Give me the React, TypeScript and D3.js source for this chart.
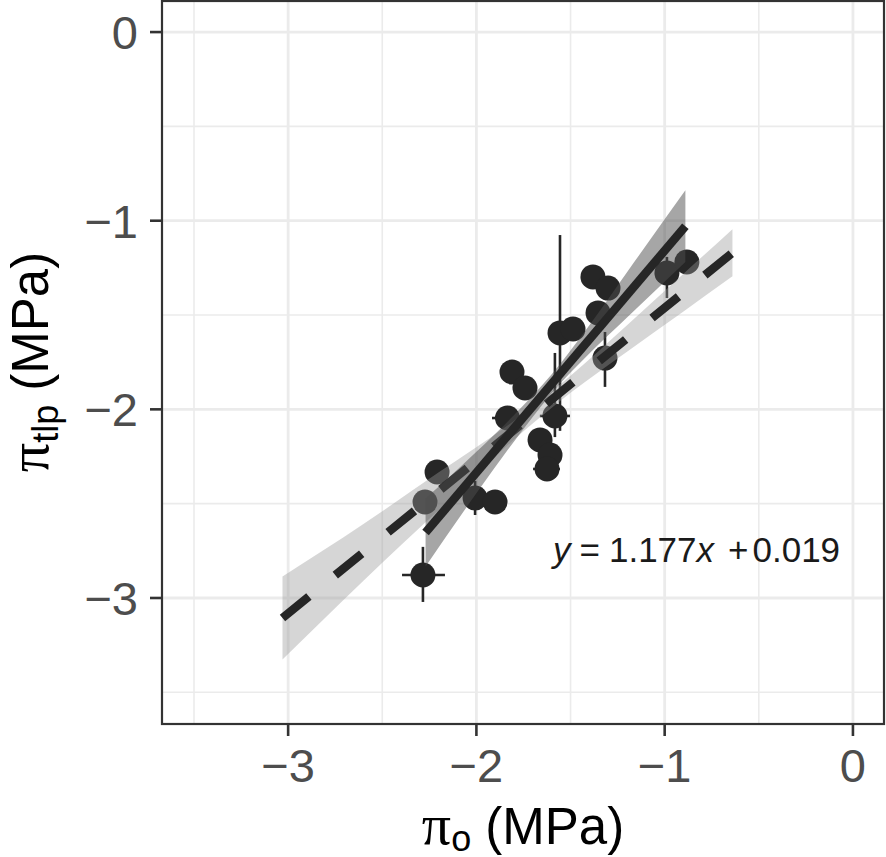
import React from 'react';
import * as d3 from 'd3';

// ---- data ----
const xTicks = [-3, -2, -1, 0];
const yTicks = [-3, -2, -1, 0];
const minorBreaks = [-3.5, -2.5, -1.5, -0.5];
const tickLabels = ['\u22123', '\u22122', '\u22121', '0'];

// points (osmotic potential at full turgor vs turgor loss point)
const ptX = [-2.284, -2.273, -2.209, -2.007, -1.901, -1.835, -1.811, -1.742, -1.662, -1.609, -1.625, -1.583, -1.556, -1.487, -1.381, -1.301, -1.354, -1.317, -0.988, -0.882];
const ptY = [-2.878, -2.491, -2.332, -2.470, -2.491, -2.046, -1.802, -1.887, -2.162, -2.242, -2.316, -2.035, -1.595, -1.574, -1.298, -1.357, -1.489, -1.728, -1.277, -1.219];
// error bars (null = none)
const xErrLo = [-2.395, null, null, null, null, -1.917, null, null, null, null, -1.699, -1.663, null, null, null, null, null, null, null, null];
const xErrHi = [-2.167, null, null, null, null, -1.753, null, null, null, null, -1.556, -1.503, null, null, null, null, null, null, null, null];
const yErrLo = [-3.021, null, null, -2.560, null, null, null, null, null, null, null, -2.147, -2.114, null, null, null, null, -1.881, -1.410, null];
const yErrHi = [-2.729, null, null, -2.380, null, null, null, null, null, null, null, -1.701, -1.076, null, null, null, null, -1.590, -1.192, null];

// fitted line of this study (solid) and its confidence band
const solidX = [-2.27, -0.89];
const solidY = [-2.653, -1.029];
const solidRibX = [-2.27, -2.0, -1.8, -1.6, -1.4, -1.2, -0.89];
const solidRibLo = [-2.833, -2.445, -2.17, -1.914, -1.704, -1.513, -1.219];
const solidRibHi = [-2.473, -2.225, -2.03, -1.814, -1.554, -1.273, -0.839];

// reference relationship (dashed) and its band
const dashX = [-3.03, -0.64];
const dashY = [-3.106, -1.170];
const dashRibX = [-3.03, -2.6, -2.2, -1.8, -1.5, -1.2, -0.9, -0.64];
const dashRibLo = [-3.326, -2.908, -2.534, -2.16, -1.912, -1.694, -1.481, -1.295];
const dashRibHi = [-2.886, -2.608, -2.334, -2.06, -1.822, -1.554, -1.281, -1.045];

const SANS = '"Liberation Sans", Arial, Helvetica, sans-serif';
const SERIF = '"Liberation Serif", "Times New Roman", serif';

export default function App() {
  const L = 162, R = 884, T = 0, B = 724;
  const x = d3.scaleLinear().domain([-3.67, 0.165]).range([L, R]);
  const y = d3.scaleLinear().domain([-3.668, 0.17]).range([B, T]);

  const solidArea = d3.area<number>()
    .x((_, i) => x(solidRibX[i]))
    .y0((_, i) => y(solidRibLo[i]))
    .y1((_, i) => y(solidRibHi[i]))
    .curve(d3.curveMonotoneX)(solidRibX) || '';
  const dashArea = d3.area<number>()
    .x((_, i) => x(dashRibX[i]))
    .y0((_, i) => y(dashRibLo[i]))
    .y1((_, i) => y(dashRibHi[i]))
    .curve(d3.curveMonotoneX)(dashRibX) || '';
  const solidPath = d3.line<number>().x((_, i) => x(solidX[i])).y((_, i) => y(solidY[i]))(solidX) || '';
  const dashPath = d3.line<number>().x((_, i) => x(dashX[i])).y((_, i) => y(dashY[i]))(dashX) || '';

  const ink = '#262626';
  const gridCol = '#ebebeb';

  return (
    <svg width={886} height={857} style={{ position: 'absolute', left: 0, top: 0, background: '#fff' }}>
      <defs>
        <clipPath id="panel"><rect x={L} y={T} width={R - L} height={B - T} /></clipPath>
      </defs>
      <rect x={0} y={0} width={886} height={857} fill="#fff" />
      {/* grid */}
      <g>
        {minorBreaks.map(v => (
          <g key={'m' + v}>
            <line x1={x(v)} x2={x(v)} y1={T} y2={B} stroke={gridCol} strokeWidth={1.6} />
            <line x1={L} x2={R} y1={y(v)} y2={y(v)} stroke={gridCol} strokeWidth={1.6} />
          </g>
        ))}
        {xTicks.map(v => (
          <line key={'gx' + v} x1={x(v)} x2={x(v)} y1={T} y2={B} stroke={gridCol} strokeWidth={2.8} />
        ))}
        {yTicks.map(v => (
          <line key={'gy' + v} x1={L} x2={R} y1={y(v)} y2={y(v)} stroke={gridCol} strokeWidth={2.8} />
        ))}
      </g>
      <g clipPath="url(#panel)">
        {/* error bars */}
        {ptX.map((px, i) => (
          <g key={'e' + i} stroke={ink} strokeWidth={2.6}>
            {xErrLo[i] !== null && (
              <line x1={x(xErrLo[i] as number)} x2={x(xErrHi[i] as number)} y1={y(ptY[i])} y2={y(ptY[i])} />
            )}
            {yErrLo[i] !== null && (
              <line x1={x(px)} x2={x(px)} y1={y(yErrLo[i] as number)} y2={y(yErrHi[i] as number)} />
            )}
          </g>
        ))}
        {/* points */}
        {ptX.map((px, i) => (
          <circle key={'p' + i} cx={x(px)} cy={y(ptY[i])} r={12.5} fill={ink} />
        ))}
        {/* reference band + dashed line */}
        <path d={dashArea} fill="#999999" fillOpacity={0.4} />
        <path d={dashPath} fill="none" stroke={ink} strokeWidth={8.5} strokeDasharray="34,34" strokeLinecap="butt" />
        {/* fitted band + solid line */}
        <path d={solidArea} fill="#4d4d4d" fillOpacity={0.5} />
        <path d={solidPath} fill="none" stroke={ink} strokeWidth={8.5} strokeLinecap="butt" />
        {/* equation */}
        <text x={553} y={562} fontFamily={SANS} fontSize={35} fill="#1a1a1a">
          <tspan fontStyle="italic">y</tspan>
          <tspan dx={9}>=</tspan>
          <tspan dx={9}>1.177</tspan>
          <tspan fontStyle="italic">x</tspan>
          <tspan dx={14}>+</tspan>
          <tspan dx={4}>0.019</tspan>
        </text>
      </g>
      {/* panel border */}
      <rect x={L} y={T + 1} width={R - L} height={B - T - 1} fill="none" stroke="#333333" strokeWidth={2.2} />
      {/* axes ticks */}
      {xTicks.map((v, i) => (
        <g key={'xt' + v}>
          <line x1={x(v)} x2={x(v)} y1={B} y2={B + 12} stroke="#333333" strokeWidth={2.6} />
          <text x={x(v)} y={782} textAnchor="middle" fontFamily={SANS} fontSize={47} fill="#4d4d4d">{tickLabels[i]}</text>
        </g>
      ))}
      {yTicks.map((v, i) => (
        <g key={'yt' + v}>
          <line x1={L - 12} x2={L} y1={y(v)} y2={y(v)} stroke="#333333" strokeWidth={2.6} />
          <text x={138} y={y(v) + 17} textAnchor="end" fontFamily={SANS} fontSize={47} fill="#4d4d4d">{tickLabels[i]}</text>
        </g>
      ))}
      {/* axis titles */}
      <text x={(L + R) / 2} y={844} textAnchor="middle" fontFamily={SANS} fontSize={51} fill="#000">
        <tspan fontFamily={SERIF} fontSize={58}>{'\u03C0'}</tspan>
        <tspan fontSize={36} dy={7}>o</tspan>
        <tspan dy={-7}> (MPa)</tspan>
      </text>
      <text transform={`translate(48,${(T + B) / 2}) rotate(-90)`} textAnchor="middle" fontFamily={SANS} fontSize={51} fill="#000">
        <tspan fontFamily={SERIF} fontSize={58}>{'\u03C0'}</tspan>
        <tspan fontSize={36} dy={10}>tlp</tspan>
        <tspan dy={-10}> (MPa)</tspan>
      </text>
    </svg>
  );
}
